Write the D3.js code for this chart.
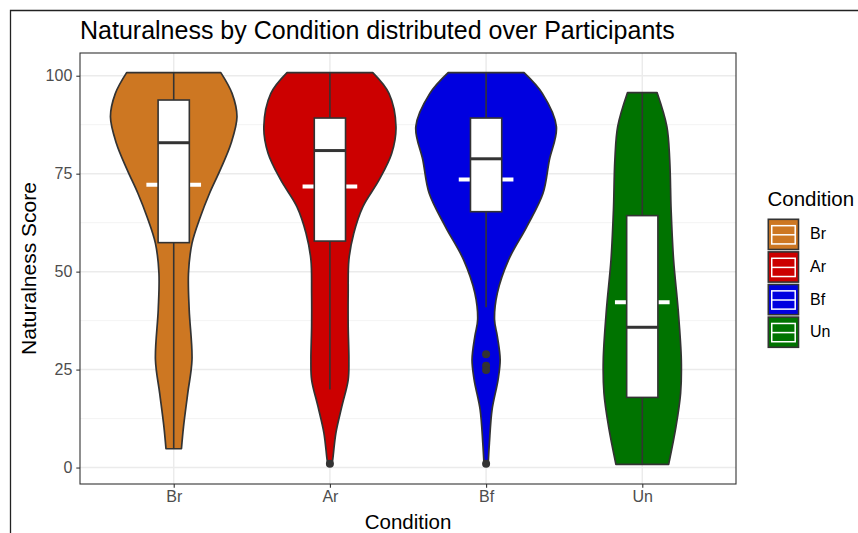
<!DOCTYPE html>
<html>
<head>
<meta charset="utf-8">
<script src="https://cdn.jsdelivr.net/npm/d3@7"></script>
<style>
  html, body { margin: 0; padding: 0; background: #fff; }
  svg { display: block; font-family: "Liberation Sans", Arial, Helvetica, sans-serif; }
</style>
</head>
<body>
<svg id="chart" width="858" height="533"></svg>
<script>
// ---------------- data ----------------
const categories = ["Br", "Ar", "Bf", "Un"];
const fillColors = ["#CD7722", "#CC0000", "#0000E0", "#007300"];
const yTicks = [0, 25, 50, 75, 100];
const yMinorTicks = [12.5, 37.5, 62.5, 87.5];

// violin profiles: score levels and relative density (1 = widest violin)
const brLevels  = [4.8, 10.5, 19, 27.5, 40.3, 49.6, 57.2, 64, 70, 75.9, 82.7, 89.5, 95.5, 100.8];
const brDensity = [0.11, 0.14, 0.20, 0.26, 0.22, 0.21, 0.26, 0.38, 0.51, 0.66, 0.815, 0.90, 0.83, 0.67];
const arLevels  = [1, 2, 8.8, 15.6, 22.4, 27.5, 36, 44.5, 53, 59.8, 66.6, 73.4, 80.2, 87, 95.5, 100.8];
const arDensity = [0.03, 0.04, 0.085, 0.17, 0.26, 0.27, 0.26, 0.26, 0.27, 0.34, 0.47, 0.70, 0.88, 0.94, 0.84, 0.61];
const bfLevels  = [1, 6.3, 14.8, 22.4, 27.5, 33.5, 37.7, 44.5, 53, 61.5, 70, 78.5, 87, 95.5, 100.8];
const bfDensity = [0.03, 0.047, 0.085, 0.17, 0.20, 0.16, 0.12, 0.16, 0.32, 0.58, 0.81, 0.90, 1.0, 0.80, 0.54];
const unLevels  = [0.8, 10.5, 19, 27.5, 40.3, 53, 65.7, 78.5, 87, 95.7];
const unDensity = [0.375, 0.48, 0.545, 0.555, 0.51, 0.445, 0.41, 0.39, 0.35, 0.21];

// boxplot statistics
const whiskerLow  = [4.8, 19.9, 40.9, 0.8];
const boxQ1       = [57.4, 57.8, 65.3, 17.9];
const boxMedian   = [82.9, 80.9, 78.8, 35.8];
const boxQ3       = [93.8, 89.2, 89.2, 64.3];
const whiskerHigh = [100.8, 100.8, 100.8, 95.7];
const means       = [72.2, 71.7, 73.5, 42.2];
const outliersAr  = [1.0];
const outliersBf  = [28.9, 26.0, 24.9, 1.0];

const violinLevels = [brLevels, arLevels, bfLevels, unLevels];
const violinDensity = [brDensity, arDensity, bfDensity, unDensity];
const outlierSets = [[], outliersAr, outliersBf, []];

// ---------------- layout ----------------
const svg = d3.select("#chart");
const panel = { left: 80, right: 736, top: 53, bottom: 484 };

const x = d3.scalePoint().domain(categories).range([panel.left, panel.right]).padding(0.6);
const y = d3.scaleLinear().domain([-4.2, 105.8]).range([panel.bottom, panel.top]);
const w = d3.scaleLinear().domain([0, 1]).range([0, 0.45 * x.step()]);
const boxHalf = 0.1 * x.step();
const meanHalf = 0.175 * x.step();
const dark = "#333333";

// outer frame
svg.append("path").attr("d", "M10.5,533 L10.5,10.5 L858,10.5")
  .attr("fill", "none").attr("stroke", "#222").attr("stroke-width", 1.3);

// panel background & grid
svg.append("rect").attr("x", panel.left).attr("y", panel.top)
  .attr("width", panel.right - panel.left).attr("height", panel.bottom - panel.top)
  .attr("fill", "#fff");

const grid = svg.append("g");
grid.selectAll(".minor").data(yMinorTicks).enter().append("line")
  .attr("x1", panel.left).attr("x2", panel.right)
  .attr("y1", d => y(d)).attr("y2", d => y(d))
  .attr("stroke", "#F2F2F2").attr("stroke-width", 0.9);
grid.selectAll(".major").data(yTicks).enter().append("line")
  .attr("x1", panel.left).attr("x2", panel.right)
  .attr("y1", d => y(d)).attr("y2", d => y(d))
  .attr("stroke", "#EBEBEB").attr("stroke-width", 1.5);
grid.selectAll(".vmajor").data(categories).enter().append("line")
  .attr("x1", d => x(d)).attr("x2", d => x(d))
  .attr("y1", panel.top).attr("y2", panel.bottom)
  .attr("stroke", "#EBEBEB").attr("stroke-width", 1.5);

// violins
const marks = svg.append("g");
categories.forEach((c, i) => {
  const cx = x(c);
  const pts = violinLevels[i].map((v, k) => ({ v, d: violinDensity[i][k] }));
  const area = d3.area()
    .y(p => y(p.v))
    .x0(p => cx - w(p.d))
    .x1(p => cx + w(p.d))
    .curve(d3.curveCatmullRom.alpha(0.5));
  marks.append("path").attr("d", area(pts))
    .attr("fill", fillColors[i]).attr("stroke", dark).attr("stroke-width", 1.7)
    .attr("stroke-linejoin", "round");
});

// mean dashes (white)
categories.forEach((c, i) => {
  const cx = x(c);
  marks.append("line")
    .attr("x1", cx - meanHalf).attr("x2", cx + meanHalf)
    .attr("y1", y(means[i])).attr("y2", y(means[i]))
    .attr("stroke", "#fff").attr("stroke-width", 4);
});

// boxplots
categories.forEach((c, i) => {
  const cx = x(c);
  const g = marks.append("g");
  g.append("line").attr("x1", cx).attr("x2", cx)
    .attr("y1", y(boxQ3[i])).attr("y2", y(whiskerHigh[i]))
    .attr("stroke", dark).attr("stroke-width", 1.6);
  g.append("line").attr("x1", cx).attr("x2", cx)
    .attr("y1", y(boxQ1[i])).attr("y2", y(whiskerLow[i]))
    .attr("stroke", dark).attr("stroke-width", 1.6);
  g.append("rect")
    .attr("x", cx - boxHalf).attr("width", 2 * boxHalf)
    .attr("y", y(boxQ3[i])).attr("height", y(boxQ1[i]) - y(boxQ3[i]))
    .attr("fill", "#fff").attr("stroke", dark).attr("stroke-width", 1.6);
  g.append("line").attr("x1", cx - boxHalf).attr("x2", cx + boxHalf)
    .attr("y1", y(boxMedian[i])).attr("y2", y(boxMedian[i]))
    .attr("stroke", dark).attr("stroke-width", 3);
  g.selectAll("circle").data(outlierSets[i]).enter().append("circle")
    .attr("cx", cx).attr("cy", d => y(d)).attr("r", 4)
    .attr("fill", dark);
});

// panel border
svg.append("rect").attr("x", panel.left).attr("y", panel.top)
  .attr("width", panel.right - panel.left).attr("height", panel.bottom - panel.top)
  .attr("fill", "none").attr("stroke", dark).attr("stroke-width", 1.1);

// axes
const yAxis = d3.axisLeft(y).tickValues(yTicks).tickSize(3.7).tickPadding(4);
const gy = svg.append("g").attr("transform", `translate(${panel.left},0)`).call(yAxis);
const xAxis = d3.axisBottom(x).tickSize(3.7).tickPadding(3);
const gx = svg.append("g").attr("transform", `translate(0,${panel.bottom})`).call(xAxis);
[gx, gy].forEach(g => {
  g.select(".domain").remove();
  g.selectAll(".tick line").attr("stroke", dark).attr("stroke-width", 1.1);
  g.selectAll(".tick text").attr("fill", "#4D4D4D").attr("font-size", 16)
    .attr("font-family", "Liberation Sans, Arial, sans-serif");
});

// titles
svg.append("text").attr("x", 80).attr("y", 39)
  .attr("font-size", 25).attr("fill", "#000")
  .text("Naturalness by Condition distributed over Participants");
svg.append("text").attr("x", (panel.left + panel.right) / 2).attr("y", 529)
  .attr("text-anchor", "middle").attr("font-size", 20.5).attr("fill", "#000")
  .text("Condition");
svg.append("text")
  .attr("transform", `translate(35.5,${(panel.top + panel.bottom) / 2}) rotate(-90)`)
  .attr("text-anchor", "middle").attr("font-size", 21).attr("fill", "#000")
  .text("Naturalness Score");

// legend
const legend = svg.append("g").attr("transform", "translate(767.5,0)");
legend.append("text").attr("x", 0).attr("y", 206).attr("font-size", 20.5).attr("fill", "#000")
  .text("Condition");
const keySize = 32.6;
categories.forEach((c, i) => {
  const ky = 218.5 + i * keySize;
  const k = legend.append("g").attr("transform", `translate(0,${ky})`);
  k.append("rect").attr("x", 0.8).attr("y", 0.8)
    .attr("width", keySize - 2.4).attr("height", keySize - 2.4)
    .attr("fill", fillColors[i]).attr("stroke", dark).attr("stroke-width", 1.6);
  k.append("rect").attr("x", keySize * 0.13).attr("y", keySize * 0.22)
    .attr("width", keySize * 0.72).attr("height", keySize * 0.56)
    .attr("fill", "none").attr("stroke", "#fff").attr("stroke-width", 1.5);
  k.append("line").attr("x1", keySize * 0.13).attr("x2", keySize * 0.85)
    .attr("y1", keySize * 0.5).attr("y2", keySize * 0.5)
    .attr("stroke", "#fff").attr("stroke-width", 1.5);
  k.append("text").attr("x", 42.5).attr("y", keySize / 2 - 1)
    .attr("dy", "0.35em").attr("font-size", 16).attr("fill", "#000")
    .text(c);
});
</script>
</body>
</html>
